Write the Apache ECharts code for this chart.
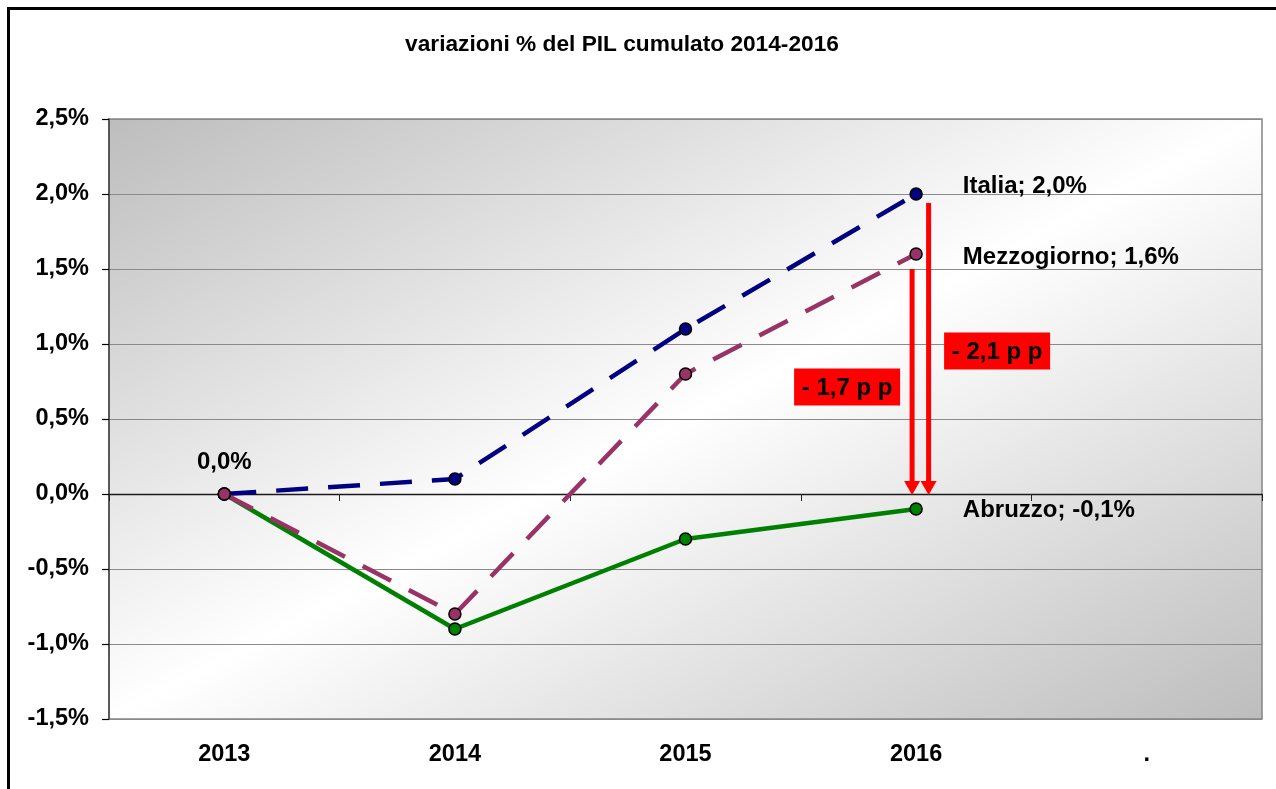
<!DOCTYPE html>
<html>
<head>
<meta charset="utf-8">
<script src="https://cdn.jsdelivr.net/npm/echarts@6/dist/echarts.min.js"></script>
<style>
html,body{margin:0;padding:0;background:#fff;}
#c{width:1276px;height:789px;}
</style>
</head>
<body>
<div id="c"></div>
<script>
// ---- data ----
const categories = ['2013', '2014', '2015', '2016', '.'];
const seriesNames = ['Italia', 'Abruzzo', 'Mezzogiorno'];
const italia = [0.0, 0.1, 1.1, 2.0];
const abruzzo = [0.0, -0.9, -0.3, -0.1];
const mezzogiorno = [0.0, -0.8, 0.8, 1.6];
const yMin = -1.5, yMax = 2.5, yStep = 0.5;
const titleText = 'variazioni % del PIL cumulato 2014-2016';
const gapLabels = ['- 1,7 p p', '- 2,1 p p'];
const arrowTops = [1.5, 1.94];   // value where each red arrow starts
const arrowEnd = 0.0;            // value where the arrows point to
const gapLabelLevels = [0.713, 0.953];

// ---- styles ----
const FONT = '"Liberation Sans", Arial, Helvetica, sans-serif';
const fmt = v => v.toFixed(1).replace('.', ',') + '%';

function buildData(values, endOffsetY, firstLabel) {
  return values.map((v, i) => {
    const item = { value: v };
    if (i === values.length - 1) {
      item.label = {
        show: true, position: 'right', distance: 40, offset: [0, endOffsetY],
        formatter: p => p.seriesName + '; ' + fmt(p.value),
        color: '#000', fontFamily: FONT, fontWeight: 'bold', fontSize: 24
      };
    }
    if (i === 0 && firstLabel) {
      item.label = {
        show: true, position: 'top', distance: 13,
        formatter: p => fmt(p.value),
        color: '#000', fontFamily: FONT, fontWeight: 'bold', fontSize: 24
      };
    }
    return item;
  });
}

function lineSeries(name, values, color, dashed, endOffsetY, firstLabel) {
  return {
    name: name, type: 'line', xAxisIndex: 0, yAxisIndex: 0,
    data: buildData(values, endOffsetY, firstLabel),
    symbol: 'circle', symbolSize: 12,
    itemStyle: { color: color, borderColor: '#000', borderWidth: 1.5 },
    lineStyle: { color: color, width: 4.5, type: dashed ? [32, 20] : 'solid', cap: 'butt' },
    label: { show: false },
    z: 3
  };
}

const chart = echarts.init(document.getElementById('c'), null, { renderer: 'canvas' });

const bg = new echarts.graphic.LinearGradient(0, 0, 0.427, 1.573, [
  { offset: 0, color: '#bdbdbd' },
  { offset: 0.5, color: '#ffffff' },
  { offset: 1, color: '#bdbdbd' }
]);

const option = {
  animation: false,
  backgroundColor: '#ffffff',
  grid: {
    left: 109, top: 119, width: 1153, height: 600,
    show: true, backgroundColor: bg, borderColor: '#858585', borderWidth: 1.5,
    containLabel: false
  },
  xAxis: [
    {
      type: 'category', data: categories, position: 'bottom', boundaryGap: true,
      axisLine: { show: false, onZero: false },
      axisTick: { show: false },
      axisLabel: { color: '#000', fontFamily: FONT, fontWeight: 'bold', fontSize: 23.5, margin: 24 },
      splitLine: { show: false }
    },
    {
      type: 'category', data: categories, position: 'top', boundaryGap: true,
      axisLine: { show: true, onZero: true, lineStyle: { color: '#1a1a1a', width: 1.3 } },
      axisTick: { show: true, inside: true, length: 7, lineStyle: { color: '#222', width: 1 } },
      axisLabel: { show: false },
      splitLine: { show: false }
    }
  ],
  yAxis: {
    type: 'value', min: yMin, max: yMax, interval: yStep,
    axisLine: { show: true, lineStyle: { color: '#404040', width: 1.5 } },
    axisTick: { show: true, inside: false, length: 7, lineStyle: { color: '#000', width: 1.2 } },
    axisLabel: {
      formatter: v => fmt(v), color: '#000', fontFamily: FONT, fontWeight: 'bold',
      fontSize: 23.5, margin: 20
    },
    splitLine: { show: true, lineStyle: { color: '#8a8a8a', width: 1.2 } }
  },
  series: [
    lineSeries(seriesNames[0], italia, '#000080', true, -8, false),
    lineSeries(seriesNames[1], abruzzo, '#008000', false, 1.5, true),
    lineSeries(seriesNames[2], mezzogiorno, '#993366', true, 3, false)
  ]
};

chart.setOption(option);

// ---- annotations placed through the chart's own scales ----
const px = (xi, v) => chart.convertToPixel({ xAxisIndex: 0, yAxisIndex: 0 }, [xi, v]);
const lastIdx = italia.length - 1;
const base = px(lastIdx, arrowEnd);
const arrowDx = [-4, 12.5];
const labelDx = [-69, 81];
const graphics = [];

// title
graphics.push({
  type: 'text', z: 100,
  style: {
    text: titleText, x: 622, y: 45, align: 'center', verticalAlign: 'middle',
    fill: '#000', font: 'bold 22.7px ' + FONT
  }
});

// outer frame
graphics.push({
  type: 'rect', z: 100, silent: true,
  shape: { x: 8.5, y: 8.5, width: 1400, height: 900 },
  style: { fill: null, stroke: '#000', lineWidth: 3 }
});

arrowTops.forEach((top, k) => {
  const x = base[0] + arrowDx[k];
  const yTop = px(lastIdx, top)[1];
  const yTip = base[1] + 1;
  const headH = 14, headW = 16;
  graphics.push({
    type: 'line', z: 90,
    shape: { x1: x, y1: yTop, x2: x, y2: yTip - headH + 1 },
    style: { stroke: '#ff0000', lineWidth: 5 }
  });
  graphics.push({
    type: 'polygon', z: 90,
    shape: { points: [[x - headW / 2, yTip - headH], [x + headW / 2, yTip - headH], [x, yTip]] },
    style: { fill: '#ff0000' }
  });
  const cy = px(lastIdx, gapLabelLevels[k])[1];
  const cx = base[0] + labelDx[k];
  graphics.push({
    type: 'rect', z: 91,
    shape: { x: cx - 53, y: cy - 18.5, width: 106, height: 37 },
    style: { fill: '#ff0000' }
  });
  graphics.push({
    type: 'text', z: 92,
    style: {
      text: gapLabels[k], x: cx, y: cy + 1, align: 'center', verticalAlign: 'middle',
      fill: '#000', font: 'bold 24px ' + FONT
    }
  });
});

chart.setOption({ graphic: { elements: graphics } });
</script>
</body>
</html>
